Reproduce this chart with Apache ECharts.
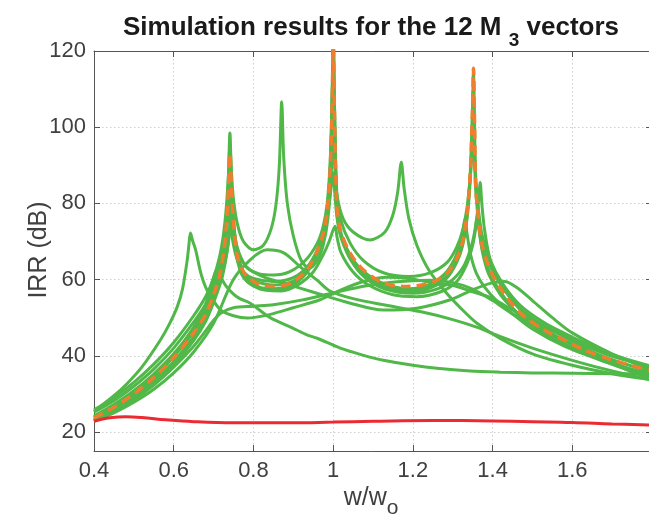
<!DOCTYPE html>
<html>
<head>
<meta charset="utf-8">
<script src="https://cdn.jsdelivr.net/npm/echarts/dist/echarts.min.js"></script>
<style>
  html, body { margin: 0; padding: 0; background: #fff; }
  #chart { width: 649px; height: 527px; }
</style>
</head>
<body>
<div id="chart"></div>
<script>
// tick labels
const xTicks = [0.4, 0.6, 0.8, 1.0, 1.2, 1.4, 1.6];
const xTickMarks = [0.4, 0.6, 0.8, 1.0, 1.2, 1.4, 1.6, 1.8];
const yTicks = [20, 40, 60, 80, 100, 120];

// reference curve (orange dashed)
const refCurve = [[0.4,23.7],[0.45,26.5],[0.5,30.0],[0.55,34.3],[0.6,39.5],[0.65,46],[0.68,50.8],[0.70,56],[0.715,61],[0.725,67],[0.732,74],[0.737,83],[0.741,93],[0.745,84],[0.75,75],[0.758,67],[0.77,63],[0.784,60.8],[0.817,58.6],[0.85,58.2],[0.892,59],[0.934,62.5],[0.96,67.5],[0.975,72],[0.985,78],[0.993,90],[0.998,108],[1.0,125],[1.003,105],[1.009,80],[1.018,73],[1.043,66.9],[1.076,62.5],[1.126,59.1],[1.185,58.2],[1.244,59.1],[1.286,61.7],[1.31,65.5],[1.325,70],[1.336,77.4],[1.344,88],[1.35,106],[1.352,115.5],[1.355,100],[1.357,86],[1.361,80],[1.373,69.5],[1.394,62.5],[1.428,56.4],[1.47,51.2],[1.528,46.8],[1.578,44.2],[1.628,41.6],[1.696,39],[1.8,36]];

// baseline (red)
const baseCurve = [[0.4,22.8],[0.44,23.7],[0.48,24.0],[0.52,23.8],[0.58,23.2],[0.65,22.7],[0.75,22.4],[0.9,22.4],[1.0,22.6],[1.1,22.8],[1.25,23.0],[1.4,22.9],[1.5,22.7],[1.6,22.5],[1.7,22.1],[1.8,21.8]];

// the 12 M3 vectors (green)
const v1 = [[0.4,24.2],[0.45,27.2],[0.5,30.8],[0.55,35.2],[0.6,40.5],[0.65,47.2],[0.68,52],[0.70,57],[0.715,62.5],[0.725,68.5],[0.732,76],[0.737,86],[0.741,98.5],[0.745,86],[0.75,76],[0.758,68],[0.77,63],[0.785,60],[0.815,58],[0.85,57.6],[0.89,58.4],[0.93,61.8],[0.96,67],[0.975,71.5],[0.985,77.5],[0.993,90],[0.998,110],[1.0,130],[1.003,108],[1.009,80],[1.018,72.5],[1.043,66.3],[1.076,61.8],[1.126,58.4],[1.19,57.3],[1.244,58.3],[1.286,61],[1.31,65],[1.325,69.5],[1.336,77],[1.344,88],[1.35,106],[1.352,115],[1.355,100],[1.357,87],[1.361,81],[1.373,70.5],[1.394,63.5],[1.428,57.5],[1.47,52.3],[1.528,48],[1.578,45.3],[1.628,42.8],[1.696,40],[1.8,37]];
const v2 = [[0.4,25.2],[0.45,28.2],[0.5,32],[0.55,36.5],[0.6,42],[0.65,48.8],[0.68,53.5],[0.70,58.5],[0.715,63.5],[0.725,68.5],[0.733,75],[0.738,82],[0.741,86],[0.745,80],[0.75,74],[0.758,69],[0.77,65.5],[0.785,63],[0.815,61.5],[0.85,61.2],[0.89,62],[0.93,65],[0.96,69.5],[0.975,74],[0.985,80],[0.993,92],[0.998,112],[1.0,125],[1.003,108],[1.009,83],[1.018,76],[1.043,69.5],[1.076,65],[1.126,61.8],[1.19,60.8],[1.244,61.8],[1.286,64.5],[1.31,68.5],[1.325,73],[1.336,79],[1.344,87],[1.352,98],[1.357,88],[1.361,82],[1.373,72],[1.394,65],[1.428,58.5],[1.47,53.2],[1.528,48.8],[1.578,46],[1.628,43.5],[1.696,40.5],[1.8,37.2]];
const v3 = [[0.4,23.4],[0.45,26],[0.5,29.3],[0.55,33.4],[0.6,38.5],[0.65,45],[0.68,50],[0.70,55],[0.715,60],[0.725,65.5],[0.732,72],[0.737,80],[0.742,75],[0.75,69],[0.76,65],[0.775,62],[0.8,60.3],[0.85,59.5],[0.9,60.5],[0.94,64],[0.965,69],[0.98,74],[0.99,80],[0.997,86],[1.0,88],[1.004,83],[1.01,76],[1.02,71],[1.045,65],[1.08,60.5],[1.13,57.5],[1.2,56.4],[1.26,57.5],[1.3,60],[1.33,64],[1.35,70],[1.36,76],[1.365,81],[1.369,85.5],[1.373,80],[1.38,73],[1.395,65],[1.43,57.5],[1.47,52],[1.53,47],[1.6,43],[1.7,39],[1.8,35.7]];
const v4 = [[0.4,22.9],[0.45,25.4],[0.5,28.6],[0.55,32.6],[0.6,37.6],[0.65,44],[0.68,49],[0.70,54],[0.72,60],[0.732,66],[0.74,72],[0.745,78],[0.75,72],[0.758,66],[0.77,61.5],[0.79,59],[0.83,57.3],[0.87,57],[0.91,58.5],[0.95,62],[0.975,66.5],[0.99,70],[1.0,73],[1.005,74],[1.01,71],[1.02,67],[1.05,62],[1.09,58.5],[1.15,56],[1.21,55.5],[1.27,56.8],[1.31,59.5],[1.335,64],[1.35,69],[1.357,73],[1.361,76.5],[1.366,73],[1.375,67],[1.39,61.5],[1.42,56],[1.46,51.5],[1.52,46.5],[1.6,42],[1.7,38],[1.8,34.7]];
const v5 = [[0.4,24],[0.45,26.9],[0.5,30.4],[0.55,34.8],[0.6,40],[0.65,46.5],[0.68,51.4],[0.70,56.5],[0.715,61.5],[0.726,67],[0.733,74],[0.739,84],[0.743,78],[0.75,71],[0.76,66],[0.775,62],[0.8,59.8],[0.85,58.6],[0.9,59.6],[0.935,63],[0.962,68],[0.978,73.5],[0.988,80],[0.995,92],[1.0,112],[1.004,96],[1.01,79],[1.02,72],[1.045,66],[1.08,61.8],[1.13,58.8],[1.19,57.6],[1.24,58.6],[1.28,61.5],[1.305,65.5],[1.32,70],[1.327,73.5],[1.331,76],[1.336,72],[1.345,66.5],[1.36,61.5],[1.38,58],[1.41,54.5],[1.45,51],[1.5,47],[1.58,42.5],[1.68,38.5],[1.8,34.3]];
const v6 = [[0.4,23.8],[0.45,26.6],[0.5,30.1],[0.55,34.4],[0.6,39.8],[0.65,46.3],[0.68,51.2],[0.70,56.3],[0.715,61.2],[0.725,67],[0.732,74],[0.737,82],[0.741,90],[0.745,82],[0.75,74],[0.758,66.5],[0.77,62],[0.785,59.5],[0.815,57.6],[0.85,57.2],[0.89,58],[0.93,61.3],[0.96,66.5],[0.975,71],[0.985,77],[0.993,89],[0.998,108],[1.0,124],[1.003,104],[1.009,79],[1.018,72],[1.043,65.8],[1.076,61.3],[1.126,57.9],[1.19,56.8],[1.244,57.8],[1.286,60.5],[1.31,64.5],[1.325,69],[1.336,76],[1.344,86],[1.349,100],[1.351,110],[1.354,98],[1.357,85],[1.361,79],[1.373,68.5],[1.394,61.5],[1.428,55.5],[1.47,50.3],[1.528,46],[1.578,43.3],[1.628,40.8],[1.696,38],[1.8,35.2]];
const v7 = [[0.4,25.8],[0.45,29],[0.5,33],[0.55,37.8],[0.6,43.5],[0.65,50.5],[0.68,55.5],[0.70,60.5],[0.715,66],[0.725,72],[0.732,79],[0.737,87],[0.741,95],[0.745,88],[0.75,81],[0.76,74.5],[0.775,70],[0.8,67.8],[0.825,69],[0.845,73.5],[0.857,80],[0.865,90],[0.871,106.7],[0.876,92],[0.885,80],[0.9,71.5],[0.92,65],[0.94,63],[0.96,65],[0.975,69],[0.987,76],[0.995,87],[1.0,100],[1.004,90],[1.01,82],[1.025,76],[1.05,72.5],[1.093,70.4],[1.13,72.5],[1.15,77],[1.162,83],[1.171,90.8],[1.178,84],[1.19,76],[1.21,69],[1.24,62.5],[1.28,57],[1.32,52.5],[1.36,48.6],[1.42,44.5],[1.5,40.5],[1.6,37.5],[1.7,35.3],[1.8,33.7]];
const v8 = [[0.4,25.4],[0.45,29.5],[0.484,32.8],[0.52,37],[0.567,44.2],[0.59,48.5],[0.609,52.9],[0.622,57.5],[0.634,65.2],[0.638,69],[0.642,72.2],[0.648,70],[0.655,67.8],[0.668,61.7],[0.68,58],[0.693,55.5],[0.718,52],[0.75,50.5],[0.785,49.9],[0.84,50.8],[0.9,52.6],[0.967,54.7],[1.02,57.3],[1.076,59.5],[1.135,60.6],[1.19,60.3],[1.226,59.6],[1.26,59],[1.31,58.2],[1.35,56.8],[1.394,55.3],[1.45,52],[1.495,49.4],[1.578,45.1],[1.65,41],[1.72,37.5],[1.8,34.4]];
const v9 = [[0.4,23],[0.45,25.5],[0.5,28.5],[0.55,32.3],[0.6,37],[0.65,42.5],[0.68,46.5],[0.70,49.3],[0.72,51.3],[0.75,52.6],[0.8,53],[0.85,53.4],[0.92,54.6],[1.0,56.5],[1.08,58.3],[1.16,59.4],[1.24,59.8],[1.3,59.2],[1.35,57.5],[1.4,54.5],[1.45,51],[1.5,48],[1.58,44],[1.66,40],[1.72,37],[1.8,33.8]];
const v10 = [[0.4,23.3],[0.45,26],[0.5,29.5],[0.55,34],[0.6,40],[0.65,47.5],[0.68,53.5],[0.69,57],[0.70,60.5],[0.708,62.5],[0.716,61],[0.73,58.5],[0.75,56.2],[0.766,55],[0.792,53.8],[0.842,50],[0.9,47.2],[0.934,45.5],[0.96,44.6],[1.018,42],[1.07,40.3],[1.126,38.8],[1.2,37.5],[1.26,36.7],[1.344,36],[1.42,35.7],[1.5,35.5],[1.6,35.4],[1.7,35.3],[1.8,35.2]];
const v11 = [[0.4,22.8],[0.45,25],[0.5,27.8],[0.55,31.2],[0.6,35.5],[0.65,41],[0.7,48.5],[0.749,59.9],[0.792,65.2],[0.834,67.8],[0.876,67],[0.917,63.4],[0.959,59.9],[0.992,57],[1.05,55],[1.13,53.3],[1.218,51.6],[1.3,49.5],[1.36,47.5],[1.42,45],[1.5,42],[1.6,38.8],[1.7,36],[1.8,33.6]];
const v12 = [[0.4,23.1],[0.45,25.7],[0.5,29],[0.55,33],[0.6,38],[0.65,44.5],[0.68,49.5],[0.70,54.5],[0.72,61],[0.733,67],[0.74,73],[0.745,79],[0.75,74],[0.758,68.5],[0.77,65],[0.792,62.5],[0.83,60.5],[0.875,59.1],[0.959,56.4],[1.043,53.8],[1.126,52],[1.21,52.5],[1.294,54.7],[1.35,57.3],[1.394,59],[1.43,59.5],[1.46,58],[1.5,54.5],[1.55,50],[1.6,46],[1.7,40.5],[1.8,36.2]];

const vectorCurves = [v1, v2, v3, v4, v5, v6, v7, v8, v9, v10, v11, v12];

const fontFamily = '"Liberation Sans", Arial, Helvetica, sans-serif';
const axisColor = '#555';
const gridLine = { show: true, lineStyle: { color: '#cfcfcf', width: 1, type: [1.5, 2.5] } };

const chart = echarts.init(document.getElementById('chart'), null, { renderer: 'canvas' });

function xAxisDef(pos) {
    return {
        type: 'value', position: pos, min: 0.4, max: 1.8, interval: 0.05,
        axisLine: { show: true, onZero: false, lineStyle: { color: axisColor, width: 1 } },
        axisTick: { show: true, inside: true, length: 6, customValues: xTickMarks, lineStyle: { color: axisColor } },
        axisLabel: {
            show: pos === 'bottom', customValues: xTicks, color: '#404040', fontSize: 22,
            fontFamily: fontFamily, margin: 9
        },
        splitLine: pos === 'bottom' ? gridLine : { show: false }
    };
}

function yAxisDef(pos) {
    return {
        type: 'value', position: pos, min: 15, max: 120, interval: 5,
        axisLine: { show: true, onZero: false, lineStyle: { color: axisColor, width: 1 } },
        axisTick: { show: true, inside: true, length: 6, customValues: yTicks, lineStyle: { color: axisColor } },
        axisLabel: {
            show: pos === 'left', customValues: yTicks, color: '#404040', fontSize: 22,
            fontFamily: fontFamily, margin: 8
        },
        splitLine: pos === 'left' ? gridLine : { show: false }
    };
}

const series = vectorCurves.map(function (c) {
    return {
        type: 'line', data: c, xAxisIndex: 0, yAxisIndex: 0,
        showSymbol: false, symbol: 'none', smooth: 0.3,
        lineStyle: { color: '#50b848', width: 3 }, z: 2, silent: true
    };
});
series.push({
    type: 'line', data: refCurve, showSymbol: false, symbol: 'none', smooth: 0.3,
    lineStyle: { color: '#f07e2f', width: 3.5, type: [10, 6] }, z: 3, silent: true
});
series.push({
    type: 'line', data: baseCurve, showSymbol: false, symbol: 'none', smooth: 0.4,
    lineStyle: { color: '#ec2a32', width: 3 }, z: 4, silent: true
});

chart.setOption({
    animation: false,
    backgroundColor: '#fff',
    grid: { left: 94, right: -3, top: 51, bottom: 76, containLabel: false, outerBoundsMode: 'none' },
    xAxis: [xAxisDef('bottom'), xAxisDef('top')],
    yAxis: [yAxisDef('left'), yAxisDef('right')],
    series: series,
    graphic: [
        {
            type: 'text', x: 371, y: 5,
            style: {
                text: 'Simulation results for the 12 M {sub|3} vectors',
                fontSize: 26, fontWeight: 'bold', fontFamily: fontFamily, fill: '#1a1a1a',
                align: 'center', verticalAlign: 'top',
                rich: { sub: { fontSize: 19, fontWeight: 'bold', fontFamily: fontFamily, fill: '#1a1a1a', padding: [26, 0, 0, 0], verticalAlign: 'bottom' } }
            }
        },
        {
            type: 'text', x: 371, y: 478,
            style: {
                text: 'w/w{sub|o}',
                fontSize: 25, fontFamily: fontFamily, fill: '#404040',
                align: 'center', verticalAlign: 'top',
                rich: { sub: { fontSize: 21, fontFamily: fontFamily, fill: '#404040', padding: [20, 0, 0, 0], verticalAlign: 'bottom' } }
            }
        },
        {
            type: 'text', x: 39, y: 250, rotation: Math.PI / 2,
            style: {
                text: 'IRR (dB)', fontSize: 25, fontFamily: fontFamily, fill: '#404040',
                align: 'center', verticalAlign: 'middle'
            }
        }
    ]
});
</script>
</body>
</html>
